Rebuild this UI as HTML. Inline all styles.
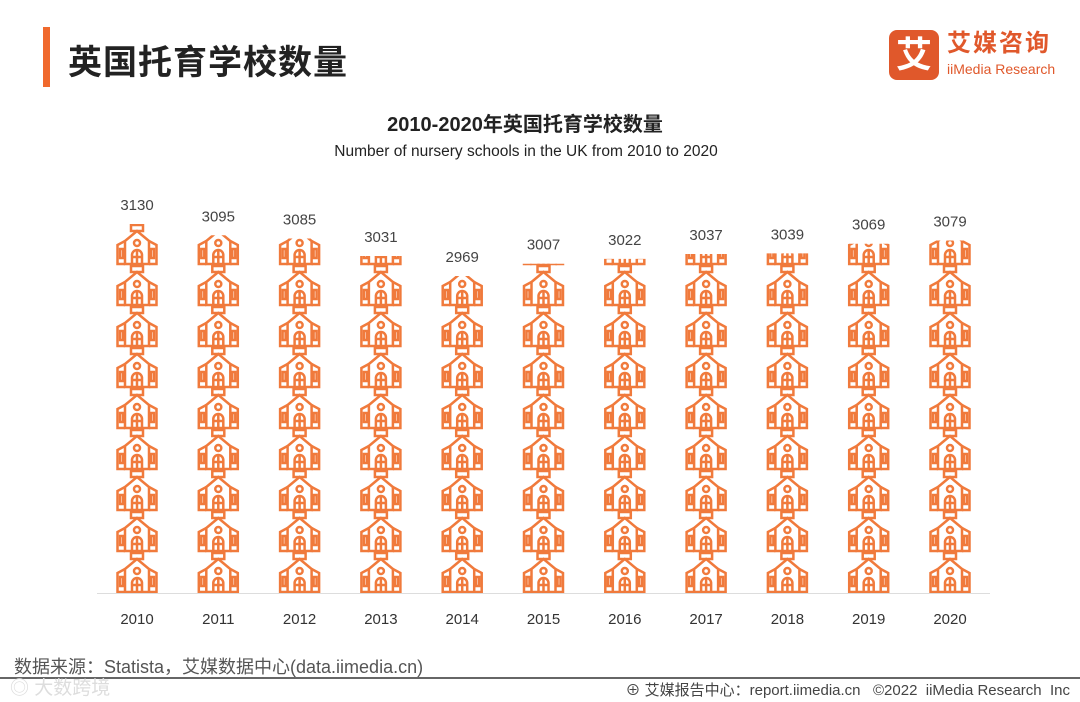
<!DOCTYPE html>
<html><head><meta charset="utf-8">
<style>
body{margin:0;width:1080px;height:702px;background:#fff;overflow:hidden;font-family:"Liberation Sans","Noto Sans CJK SC",sans-serif;position:relative}
.abs{position:absolute}
</style></head>
<body>
<div class="abs" style="left:43px;top:27px;width:7px;height:60px;background:#f0692d"></div>
<div class="abs" style="left:68px;top:35px;font-size:34px;font-weight:bold;color:#222;letter-spacing:1px">英国托育学校数量</div>
<div class="abs" style="left:889px;top:30px;width:170px;height:50px">
  <div style="position:absolute;left:0;top:0;width:50px;height:50px;background:#e0582b;border-radius:8px;color:#fff;font-size:36px;font-weight:bold;text-align:center;line-height:50px">艾</div>
  <div style="position:absolute;left:58px;top:0;font-size:24px;font-weight:bold;color:#e0582b;letter-spacing:2px;line-height:28px">艾媒咨询</div>
  <div style="position:absolute;left:58px;top:30px;font-size:14px;color:#e0582b;line-height:18px;white-space:nowrap">iiMedia Research</div>
</div>
<div class="abs" style="left:0;width:1050px;top:108px;text-align:center;font-size:20px;font-weight:bold;color:#222">2010-2020年英国托育学校数量</div>
<div class="abs" style="left:0;width:1052px;top:143px;text-align:center;font-size:15.5px;color:#222">Number of nursery schools in the UK from 2010 to 2020</div>

<svg class="abs" style="left:0;top:0" width="1080" height="702">
  <defs>
    <g id="school" stroke="#f07a3c" stroke-width="2.5" fill="none">
      <rect x="15" y="1" width="12" height="6"/>
      <path d="M21 7 L9 17 L9 40 L33 40 L33 17 Z"/>
      <path d="M9 17 L1.5 21 L1.5 40 L9 40 M33 17 L40.5 21 L40.5 40 L33 40"/>
      <circle cx="21" cy="19" r="3"/>
      <path d="M16 40 L16 31 A5 5 0 0 1 26 31 L26 40 M21 26 L21 40 M16 33 L26 33"/>
      <rect x="4" y="25" width="3" height="9"/>
      <rect x="35" y="25" width="3" height="9"/>
    </g>
  </defs>
  <line x1="97" y1="593.5" x2="990" y2="593.5" stroke="#ddd" stroke-width="1"/>
  <g id="plot"></g>
</svg>

<div class="abs" style="left:14px;top:653px;font-size:18px;color:#555">数据来源：Statista，艾媒数据中心(data.iimedia.cn)</div>
<div class="abs" style="left:0;top:677px;width:1080px;height:2px;background:#666"></div>
<div class="abs" style="left:10px;top:673px;font-size:19px;color:#ddd">◎ 大数跨境</div>
<div class="abs" style="right:10px;top:679px;font-size:15px;color:#444">⊕ 艾媒报告中心：report.iimedia.cn &nbsp;&nbsp;©2022 &nbsp;iiMedia Research &nbsp;Inc</div>

<script>
const years=["2010","2011","2012","2013","2014","2015","2016","2017","2018","2019","2020"];
const values=[3130,3095,3085,3031,2969,3007,3022,3037,3039,3069,3079];
const domainMin=1988, domainMax=3130;
const X0=137, STEP=81.3, BOTTOM=593, TOPY=224, UNIT_H=41, N_UNITS=9;
function yScale(v){return BOTTOM-(v-domainMin)/(domainMax-domainMin)*(BOTTOM-TOPY);}
function xScale(i){return X0+i*STEP;}
const NS="http://www.w3.org/2000/svg";
const plot=document.getElementById('plot');
const defs=document.querySelector('defs');
years.forEach((yr,i)=>{
  const cx=xScale(i), ty=yScale(values[i]);
  const cp=document.createElementNS(NS,'clipPath');
  cp.setAttribute('id','c'+i);
  const r=document.createElementNS(NS,'rect');
  r.setAttribute('x',cx-25);r.setAttribute('y',ty);r.setAttribute('width',50);r.setAttribute('height',BOTTOM-ty);
  cp.appendChild(r);defs.appendChild(cp);
  const g=document.createElementNS(NS,'g');
  
  
  g.setAttribute('clip-path','url(#c'+i+')');
  for(let k=0;k<N_UNITS;k++){
    const u=document.createElementNS(NS,'use');
    u.setAttribute('href','#school');
    u.setAttribute('x',cx-21);u.setAttribute('y',BOTTOM-(k+1)*UNIT_H);
    g.appendChild(u);
  }
  plot.appendChild(g);
  const t=document.createElementNS(NS,'text');
  
  
  t.setAttribute('x',cx);t.setAttribute('y',ty-14);t.setAttribute('text-anchor','middle');
  t.setAttribute('font-size','15');t.setAttribute('fill','#444');
  t.setAttribute('font-family','Liberation Sans, sans-serif');
  t.textContent=values[i];plot.appendChild(t);
  const l=document.createElementNS(NS,'text');
  
  
  l.setAttribute('x',cx);l.setAttribute('y',624);l.setAttribute('text-anchor','middle');
  l.setAttribute('font-size','15');l.setAttribute('fill','#333');
  l.setAttribute('font-family','Liberation Sans, sans-serif');
  l.textContent=yr;plot.appendChild(l);
});
</script>
</body></html>
